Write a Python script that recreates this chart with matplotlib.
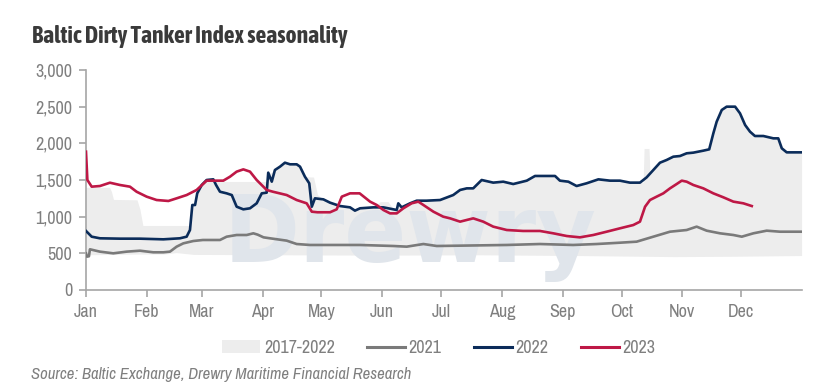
import numpy as np
import matplotlib.pyplot as plt
from matplotlib.patches import Patch
from matplotlib.lines import Line2D

# day-of-year positions and index values
d2023 = [0, 0.7, 2.9, 7.1, 12.2, 17.3, 22.4, 25.8, 30.9, 36.0, 42.0, 46.2, 51.3, 56.4, 61.5, 70.0,
         73.4, 76.8, 80.2, 83.6, 87.0, 92.1, 95.3, 102.3, 107.4, 112.5, 115.1, 118, 124.4, 127.8,
         130.4, 134.6, 139.5, 144.8, 148.2, 151.6, 155.0, 158.4, 161.8, 166.0, 169.4, 172.0, 177.1,
         182.1, 185.6, 190.7, 194.1, 197.4, 202.5, 207.6, 214.5, 222.8, 231.4, 238.2, 245.1, 251.8,
         258.6, 265.4, 272.2, 279.0, 282.4, 285.0, 287.5, 290.9, 294.3, 297.7, 301.1, 303.7, 306.2,
         309.6, 314.7, 319.8, 324.9, 330.0, 335.1, 339.4]
v2023 = [1886, 1500, 1409, 1418, 1463, 1432, 1409, 1340, 1273, 1227, 1214, 1250, 1295, 1364, 1491, 1491,
         1545, 1614, 1645, 1614, 1500, 1364, 1340, 1295, 1227, 1182, 1068, 1060, 1060, 1100,
         1273, 1318, 1318, 1205, 1159, 1091, 1045, 1045, 1114, 1182, 1205, 1159, 1068,
         1000, 977, 932, 955, 977, 932, 864, 818, 805, 805, 773, 736, 718,
         750, 795, 841, 886, 932, 1136, 1227, 1273, 1318, 1386, 1445, 1491, 1477,
         1432, 1386, 1318, 1264, 1205, 1182, 1145]

d2022 = [0, 1.2, 2.9, 7.1, 17.3, 27.5, 39.4, 47.9, 51.3, 53.0, 54.2, 55.6, 56.7, 59.0, 61.5, 64.9,
         66.3, 68.3, 71.7, 74.3, 76.8, 80.2, 83.6, 87.0, 89.6, 92.1, 92.9, 94.7, 96.3, 98.9, 101.4,
         104.0, 107.4, 109.1, 111.6, 113.8, 115.1, 116.7, 121.0, 124.4, 129.5, 134.6, 137.1, 139.7,
         146.5, 151.6, 156.7, 158.4, 159.2, 160.9, 165.2, 168.6, 173.6, 180.5, 187.2, 190.7, 194.1,
         197.4, 201.7, 207.6, 212.7, 217.8, 224.7, 228.9, 234.9, 239.1, 241.6, 245.9, 250.1, 255.2,
         261.2, 267.1, 272.2, 277.3, 282.4, 285.8, 289.2, 292.6, 296.0, 299.4, 302.8, 306.2, 309.6,
         314.7, 317.7, 319.8, 321.5, 324.1, 326.6, 330.9, 333.4, 336.0, 338.5, 341.0, 345.3, 350.4,
         352.9, 354.7, 357.2, 364.8]
v2022 = [805, 773, 727, 705, 700, 700, 691, 705, 727, 818, 1159, 1159, 1318, 1432, 1500, 1509,
         1432, 1340, 1318, 1295, 1136, 1100, 1114, 1182, 1318, 1327, 1600, 1477, 1636, 1682, 1736,
         1714, 1714, 1682, 1545, 1455, 1136, 1250, 1236, 1191, 1145, 1127, 1082, 1114,
         1127, 1127, 1100, 1091, 1182, 1127, 1182, 1218, 1218, 1227, 1295, 1364, 1386,
         1386, 1500, 1464, 1477, 1445, 1491, 1555, 1555, 1555, 1491, 1477, 1418, 1455,
         1509, 1491, 1491, 1464, 1464, 1536, 1636, 1736, 1773, 1818, 1827, 1864, 1873,
         1900, 1918, 2136, 2295, 2455, 2500, 2500, 2409, 2250, 2159, 2100, 2100, 2068,
         2068, 1932, 1877, 1877]

d2021 = [0, 0.5, 1.5, 2.0, 7.1, 13.9, 20.7, 27.5, 34.3, 39.4, 42.8, 46.2, 49.6, 54.7, 59.6, 68.3,
         71.7, 76.8, 81.9, 85.3, 87.5, 90.5, 93.8, 102.3, 107.4, 114.2, 139.7, 156.7, 163.5, 172.0,
         178.8, 214.5, 231.4, 248.3, 260.3, 272.2, 280.7, 289.2, 297.7, 306.2, 311.3, 316.4, 323.2,
         330.0, 334.3, 340.2, 347.0, 353.8, 364.8]
v2021 = [500, 455, 460, 555, 523, 500, 523, 536, 514, 514, 523, 591, 636, 668, 682, 682,
         727, 750, 750, 773, 755, 718, 705, 673, 627, 614, 614, 600, 591, 627,
         600, 614, 627, 614, 627, 645, 659, 727, 795, 818, 864, 809, 773,
         750, 727, 773, 809, 795, 795]

# 2017-2022 range
dhi = [0, 12, 13, 14, 26, 27.5, 29, 53, 54.2, 55.6, 56.7, 59, 61.5, 64.9, 66.3, 90, 92.1, 92.9,
       94.7, 96.3, 98.9, 101.4, 104, 107.4, 109.1, 111.6, 116, 118, 121, 124.4, 129.5, 134.6,
       137.1, 139.7, 146.5, 150, 154, 156.7, 158.4, 159.2, 160.9, 165.2, 168.6, 173.6, 180.5,
       187.2, 190.7, 194.1, 197.4, 201.7, 207.6, 212.7, 217.8, 224.7, 228.9, 239.1, 241.6, 245.9,
       250.1, 255.2, 261.2, 267.1, 272.2, 277.3, 284, 284.5, 287, 287.5, 289.2, 292.6, 296,
       299.4, 302.8, 306.2, 309.6, 314.7, 317.7, 319.8, 321.5, 324.1, 326.6, 330.9, 333.4, 336,
       338.5, 341, 345.3, 350.4, 352.9, 354.7, 357.2, 364.8]
vhi = [1400, 1400, 1340, 1235, 1230, 1100, 880, 880, 1159, 1159, 1318, 1432, 1500, 1509, 1480, 1480, 1480, 1600,
       1600, 1636, 1682, 1736, 1714, 1714, 1682, 1545, 1540, 1300, 1236, 1191, 1145, 1127,
       1082, 1114, 1127, 1205, 1205, 1100, 1091, 1182, 1127, 1182, 1218, 1218, 1227,
       1295, 1364, 1386, 1386, 1500, 1464, 1477, 1445, 1491, 1555, 1555, 1491, 1477,
       1418, 1455, 1509, 1491, 1491, 1464, 1464, 1930, 1930, 1600, 1636, 1736, 1773,
       1818, 1827, 1864, 1873, 1900, 1918, 2136, 2295, 2455, 2500, 2500, 2409, 2250,
       2159, 2100, 2100, 2068, 2068, 1932, 1877, 1877]
dlo = [0, 13, 27, 40, 46, 55, 100, 150, 200, 250, 300, 330, 364.8]
vlo = [480, 485, 490, 490, 510, 485, 480, 475, 480, 470, 455, 460, 470]

months = ['Jan', 'Feb', 'Mar', 'Apr', 'May', 'Jun', 'Jul', 'Aug', 'Sep', 'Oct', 'Nov', 'Dec']
month_start = [0, 31, 59, 90, 120, 151, 181, 212, 243, 273, 304, 334]

narrow = ['Liberation Sans Narrow', 'Archivo Narrow', 'DejaVu Sans']
narrow_bold = ['Liberation Sans Narrow', 'Asap Condensed', 'DejaVu Sans']
grey_txt = '#7f7f7f'

fig = plt.figure(figsize=(8.14, 3.91), dpi=100)
ax = fig.add_axes([86 / 814, 1 - 290 / 391, 716 / 814, 220 / 391])

# band: both edges on the union of their read positions
xs = np.array(sorted(set(dhi) | set(dlo)))
ax.fill_between(xs, np.interp(xs, dlo, vlo), np.interp(xs, dhi, vhi),
                color='#ededed', lw=0, zorder=1)

# faint company watermark behind the lines
ax.text(70, 380, 'Drewry', fontsize=66, fontweight='bold', color='#e0e5eb',
        family='DejaVu Sans', zorder=1.5, va='baseline', ha='left', clip_on=True)

ax.plot(d2021, v2021, color='#7a7a7a', lw=1.9, zorder=3)
ax.plot(d2022, v2022, color='#0b2c5a', lw=1.9, zorder=4)
ax.plot(d2023, v2023, color='#be1846', lw=1.9, zorder=5)

ax.set_xlim(0, 365)
ax.set_ylim(0, 3000)
ax.set_yticks(range(0, 3001, 500))
ax.set_yticklabels([f'{v:,}' for v in range(0, 3001, 500)])
ax.set_xticks(month_start)
ax.set_xticklabels(months)
for s in ['top', 'right']:
    ax.spines[s].set_visible(False)
for s in ['left', 'bottom']:
    ax.spines[s].set_color('#a6a6a6')
    ax.spines[s].set_linewidth(1.2)
ax.tick_params(colors='#a6a6a6', length=5, width=1.2, labelcolor=grey_txt, labelsize=13, pad=5)
for lab in ax.get_xticklabels() + ax.get_yticklabels():
    lab.set_family(narrow)

handles = [Patch(color='#ededed', lw=0),
           Line2D([], [], color='#7a7a7a', lw=2.2),
           Line2D([], [], color='#0b2c5a', lw=2.2),
           Line2D([], [], color='#be1846', lw=2.2)]
fig.legend(handles, ['2017-2022', '2021', '2022', '2023'], loc='center',
           bbox_to_anchor=(439 / 814, 1 - 348 / 391),
           ncol=4, frameon=False, handlelength=2.1, handletextpad=0.2, columnspacing=1.8,
           prop={'family': narrow, 'size': 13}, labelcolor=grey_txt)

fig.text(32 / 814, 1 - 36 / 391, 'Baltic Dirty Tanker Index seasonality', fontsize=17, fontweight='bold',
         color='#3a3a3a', family=narrow_bold, va='center', ha='left')
fig.text(31 / 814, 1 - 375 / 391, 'Source: Baltic Exchange, Drewry Maritime Financial Research', fontsize=12,
         style='italic', color=grey_txt, family=narrow, va='center', ha='left')

fig.savefig('out.png', dpi=100)
